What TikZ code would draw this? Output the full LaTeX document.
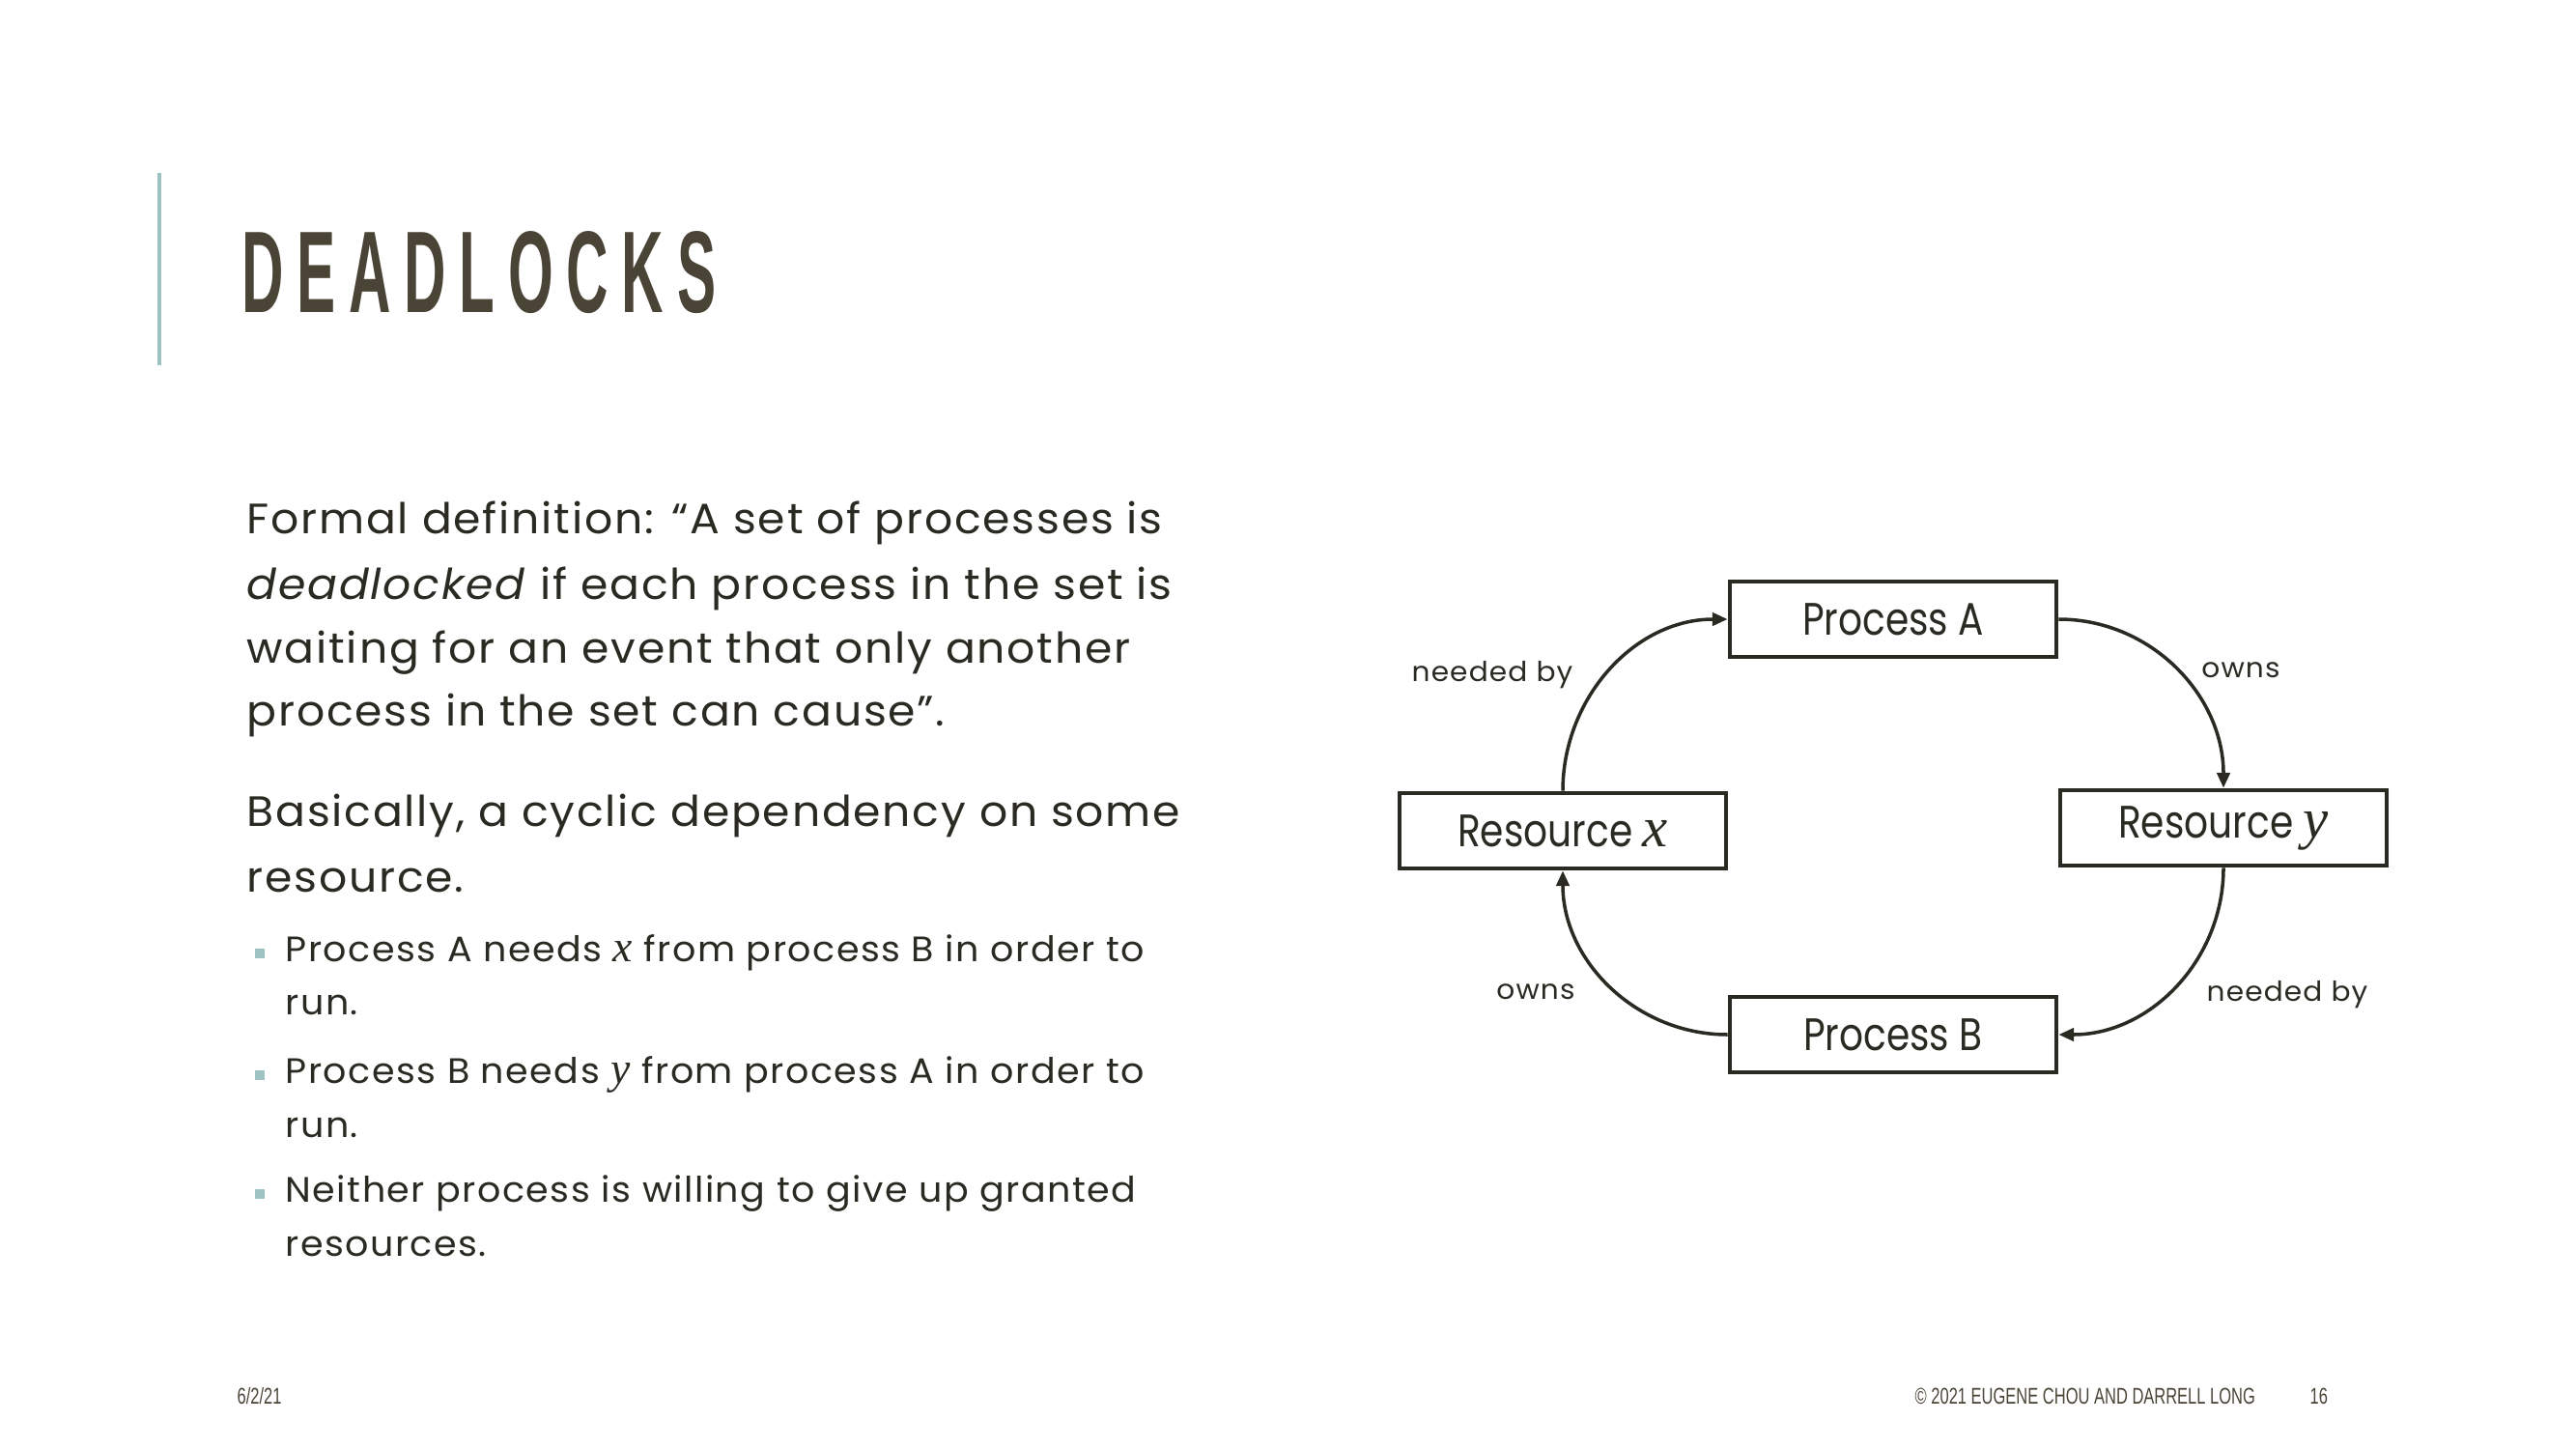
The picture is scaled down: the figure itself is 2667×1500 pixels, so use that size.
\documentclass[tikz,border=0pt]{standalone}
\usepackage{fontspec}
\setmainfont{Poppins}[FakeStretch=1.04, LetterSpace=4]
\newfontfamily\boxfont{Poppins}[FakeStretch=0.83]
\newfontfamily\titlefont{Liberation Sans}[FakeStretch=0.5]
\newfontfamily\footfont{Liberation Sans}[FakeStretch=0.7]
\newfontfamily\varfont{Liberation Serif}[Scale=1.25]
\usetikzlibrary{arrows.meta}

\definecolor{ink}{HTML}{2B2A22}
\definecolor{titleink}{HTML}{4A4437}
\definecolor{accent}{HTML}{9FC2C3}

\newcommand{\tsp}{\hspace{3.9pt}}
\newcommand{\vname}[1]{{\varfont\itshape #1}}

\tikzset{
  body/.style={anchor=base west, inner sep=0pt, text=ink, font=\fontsize{12.5}{14}\selectfont},
  subitem/.style={anchor=base west, inner sep=0pt, text=ink, font=\fontsize{10.4}{12}\selectfont},
  bulletmark/.style={fill=accent, draw=none, minimum size=0.1cm, inner sep=0pt},
  box/.style={draw=ink, line width=1.3pt, minimum width=3.38cm, minimum height=0.78cm,
              inner sep=0pt, text=ink, font=\boxfont\fontsize{13.4}{15}\selectfont},
  edgelabel/.style={inner sep=0pt, text=ink, font=\fontsize{8.1}{10}\selectfont},
  link/.style={draw=ink, line width=1pt, -{Triangle[length=4.5pt,width=3.8pt]}},
  foot/.style={anchor=base west, inner sep=0pt, text=titleink, font=\footfont\fontsize{6.7}{8}\selectfont},
}

\begin{document}
\begin{tikzpicture}[x=0.01cm,y=-0.01cm]
  \useasboundingbox (0,0) rectangle (2667,1500);

  % title and accent bar
  \draw[accent, line width=1.1pt] (165,179) -- (165,378);
  \node[anchor=base west, inner sep=0pt, text=titleink,
        font=\titlefont\bfseries\fontsize{34.2}{40}\selectfont] (title) at (250,323)
        {D\tsp E\tsp A\tsp D\tsp L\tsp O\tsp C\tsp K\tsp S};

  % definition
  \node[body] (p1) at (255,552) {Formal definition: “A set of processes is};
  \node[body] (p2) at (255,620) {\textit{deadlocked} if each process in the set is};
  \node[body] (p3) at (255,686) {waiting for an event that only another};
  \node[body] (p4) at (255,751) {process in the set can cause”.};

  \node[body] (q1) at (255,855) {Basically, a cyclic dependency on some};
  \node[body] (q2) at (255,923) {resource.};

  % sub-points
  \node[bulletmark] (b1) at (269,987) {};
  \node[subitem] (s1a) at (295,995) {Process A needs \vname{x} from process B in order to};
  \node[subitem] (s1b) at (295,1050) {run.};
  \node[bulletmark] (b2) at (269,1113) {};
  \node[subitem] (s2a) at (295,1121) {Process B needs \vname{y} from process A in order to};
  \node[subitem] (s2b) at (295,1177) {run.};
  \node[bulletmark] (b3) at (269,1236) {};
  \node[subitem] (s3a) at (295,1244) {Neither process is willing to give up granted};
  \node[subitem] (s3b) at (295,1300) {resources.};

  % wait-for cycle
  \node[box] (pa) at (1960,641) {Process A};
  \node[box] (rx) at (1618,860) {Resource \vname{x}};
  \node[box] (ry) at (2302,857) {Resource \vname{y}};
  \node[box] (pb) at (1960,1071) {Process B};

  \draw[link] (rx.north) to[out=90,in=180] (pa.west);
  \draw[link] (pa.east) to[out=0,in=90] (ry.north);
  \draw[link] (ry.south) to[out=-90,in=0] (pb.east);
  \draw[link] (pb.west) to[out=180,in=-90] (rx.south);

  \node[edgelabel] (l1) at (1545,699) {needed by};
  \node[edgelabel] (l2) at (2320,694) {owns};
  \node[edgelabel] (l3) at (1590,1027) {owns};
  \node[edgelabel] (l4) at (2368,1030) {needed by};

  % footer
  \node[foot] (date) at (245,1453) {6/2/21};
  \node[foot] (copy) at (1982,1453) {© 2021 EUGENE CHOU AND DARRELL LONG};
  \node[foot] (page) at (2391,1453) {16};
\end{tikzpicture}
\end{document}
